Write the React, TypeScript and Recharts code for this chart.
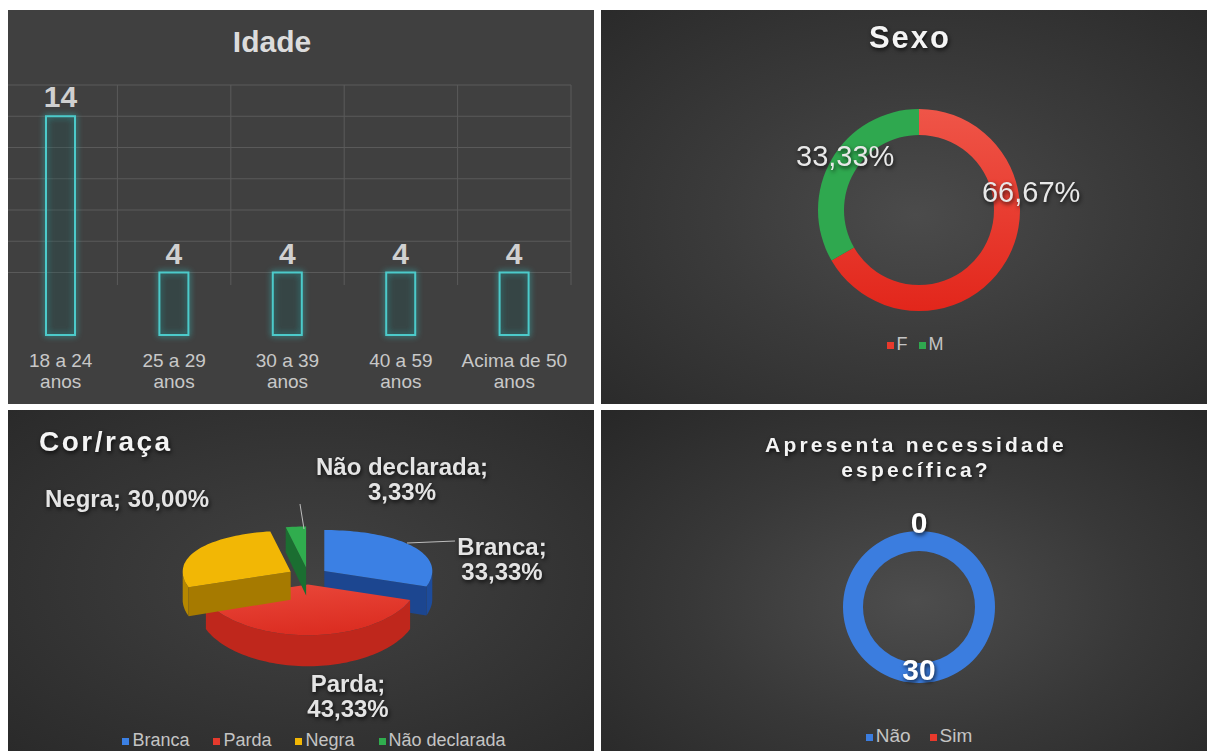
import React from "react";
import {
  BarChart,
  Bar,
  XAxis,
  YAxis,
  CartesianGrid,
  LabelList,
  PieChart,
  Pie,
  Cell,
} from "recharts";

const FONT = '"Liberation Sans", Arial, sans-serif';

// Idade
const idadeFaixas = ["18 a 24 anos", "25 a 29 anos", "30 a 39 anos", "40 a 59 anos", "Acima de 50 anos"];
const idadeTotais = [14, 4, 4, 4, 4];
const idadeMax = 16;
const idadeTicks = [4, 6, 8, 10, 12, 14, 16];

// Sexo
const sexoNomes = ["F", "M"];
const sexoPercentuais = [66.67, 33.33];
const sexoCores = ["url(#gradF)", "#2fa84f"];
const sexoLegenda = ["#e8392c", "#2fa84f"];

// Cor/raça
const corNomes = ["Branca", "Parda", "Negra", "Não declarada"];
const corPercentuais = [33.33, 43.33, 30.0, 3.33];
const corTopo = ["#3b80e4", "url(#gradParda)", "#f2b705", "#30ad4e"];
const corLado = ["#1d4c9c", "#bf271c", "#b58700", "#1f7d37"];
const corFace = ["#1c4690", "#a82218", "#a67a00", "#1b6e31"];
const corLegenda = ["#3b80e4", "#e53a2d", "#f2b705", "#30ad4e"];

// Necessidade específica
const necNomes = ["Não", "Sim"];
const necTotais = [30, 0];
const necCores = ["#3b7ddf", "#e8392c"];

const idadeData = idadeFaixas.map((faixa, i) => ({ faixa, total: idadeTotais[i] }));
const sexoData = sexoNomes.map((nome, i) => ({ nome, valor: sexoPercentuais[i] }));
const corData = corNomes.map((nome, i) => ({ nome, valor: corPercentuais[i] }));
const necData = necNomes.map((nome, i) => ({ nome, valor: necTotais[i] }));

const pct = (v: number) => v.toFixed(2).replace(".", ",") + "%";
const rad = (d: number) => (d * Math.PI) / 180;
const sombra = { filter: "drop-shadow(1px 2px 2px rgba(0,0,0,0.75))" };

function Painel({ left, top, width, height, background, children }: any) {
  return (
    <div style={{ position: "absolute", left, top, width, height, background, overflow: "hidden" }}>
      {children}
    </div>
  );
}

function Camada({ width, height, children }: any) {
  return (
    <svg width={width} height={height} style={{ position: "absolute", left: 0, top: 0, pointerEvents: "none" }}>
      {children}
    </svg>
  );
}

function Legenda({ nomes, cores, centerX, baseline, fontSize, gap }: any) {
  return (
    <div
      style={{
        position: "absolute",
        left: centerX - 250,
        width: 500,
        top: baseline - Math.round(fontSize * 0.85),
        display: "flex",
        justifyContent: "center",
        gap,
        fontFamily: FONT,
        fontSize,
        lineHeight: `${fontSize}px`,
        color: "#c4c4c4",
        whiteSpace: "nowrap",
      }}
    >
      {nomes.map((n: string, i: number) => (
        <span key={n} style={{ display: "flex", alignItems: "center" }}>
          <span style={{ width: 7, height: 7, background: cores[i], marginRight: 3, marginTop: 3 }} />
          {n}
        </span>
      ))}
    </div>
  );
}

function IdadeTick({ x, y, payload }: any) {
  const texto = String(payload.value);
  const corte = texto.lastIndexOf(" ");
  return (
    <text x={x} y={y} textAnchor="middle" fill="#c8c8c8" fontSize={19} fontFamily={FONT}>
      <tspan x={x} dy={32}>{texto.slice(0, corte)}</tspan>
      <tspan x={x} dy={21}>{texto.slice(corte + 1)}</tspan>
    </text>
  );
}

function BarraContorno({ x, y, width, height }: any) {
  return (
    <rect
      x={x}
      y={y}
      width={width}
      height={height}
      fill="rgba(0,0,0,0.12)"
      stroke="#4ccaca"
      strokeWidth={2}
      style={{ filter: "drop-shadow(0 0 3px rgba(50,200,200,0.9))" }}
    />
  );
}

// rótulos da rosca "Sexo": ângulo e raio em torno do centro
const sexoRotuloPos = [
  { ang: 7, r: 113 },
  { ang: 146, r: 89 },
];

function RotuloSexo({ cx, cy, index, value }: any) {
  const p = sexoRotuloPos[index];
  return (
    <text
      x={cx + p.r * Math.cos(rad(p.ang))}
      y={cy - p.r * Math.sin(rad(p.ang))}
      dy={-4}
      textAnchor="middle"
      dominantBaseline="central"
      fill="#e8e8e8"
      fontSize={29}
      fontFamily={FONT}
      style={sombra}
    >
      {pct(value)}
    </text>
  );
}

// pizza 3D: elipse com leve perspectiva
const PIE_K = 0.425;
const PIE_K_VAR = 0.045;
const PIE_DEPTH = 28;
const PIE_EXPLODE = 20;

function ponto(ox: number, oy: number, ang: number, r: number) {
  const s = Math.sin(rad(ang));
  return [ox + r * Math.cos(rad(ang)), oy - r * (PIE_K - PIE_K_VAR * s) * s];
}
const prof = (ang: number) => PIE_DEPTH - 3 * Math.sin(rad(ang));

function arco(ox: number, oy: number, a0: number, a1: number, r: number, desce = false) {
  const pts: number[][] = [];
  const n = Math.max(2, Math.ceil(Math.abs(a1 - a0) / 2));
  for (let i = 0; i <= n; i++) {
    const a = a0 + ((a1 - a0) * i) / n;
    const [x, y] = ponto(ox, oy, a, r);
    pts.push([x, desce ? y + prof(a) : y]);
  }
  return pts;
}

const caminho = (pts: number[][]) =>
  pts.map(([x, y], i) => `${i ? "L" : "M"}${x.toFixed(1)},${y.toFixed(1)}`).join("") + "Z";

function Fatia3D({ cx, cy, outerRadius, startAngle, endAngle, index }: any) {
  const lo = Math.min(startAngle, endAngle);
  const hi = Math.max(startAngle, endAngle);
  const mid = (lo + hi) / 2;
  const ox = cx + PIE_EXPLODE * Math.cos(rad(mid));
  const oy = cy - PIE_EXPLODE * PIE_K * Math.sin(rad(mid));
  const R = outerRadius;

  const paredes: string[] = [];
  for (const k of [-360, 0, 360]) {
    const u = Math.max(lo, -180 + k);
    const v = Math.min(hi, k);
    if (v - u > 0.01) {
      paredes.push(caminho([...arco(ox, oy, u, v, R), ...arco(ox, oy, v, u, R, true)]));
    }
  }
  const faces: number[] = [];
  if (Math.cos(rad(lo)) > 1e-6) faces.push(lo);
  if (Math.cos(rad(hi)) < -1e-6) faces.push(hi);

  return (
    <g>
      {paredes.map((d, i) => (
        <path key={"p" + i} d={d} fill={corLado[index]} />
      ))}
      {faces.map((a, i) => {
        const [ex, ey] = ponto(ox, oy, a, R);
        return (
          <path
            key={"f" + i}
            d={caminho([
              [ox, oy],
              [ex, ey],
              [ex, ey + prof(a)],
              [ox, oy + PIE_DEPTH],
            ])}
            fill={corFace[index]}
          />
        );
      })}
      <path d={caminho([[ox, oy], ...arco(ox, oy, lo, hi, R)])} fill={corTopo[index]} />
    </g>
  );
}

// rótulos de Cor/raça, relativos ao centro da pizza
const corRotuloPos = [
  { dx: 194, dy: -21, anchor: "middle", quebra: true, guia: [99, -33, 147, -35] },
  { dx: 40, dy: 116, anchor: "middle", quebra: true, guia: null },
  { dx: -263, dy: -69, anchor: "start", quebra: false, guia: null },
  { dx: 94, dy: -101, anchor: "middle", quebra: true, guia: [-8, -72, -4, -47] },
];

function RotuloCor({ cx, cy, index, value, payload }: any) {
  const p = corRotuloPos[index];
  const nome = payload?.nome ?? corNomes[index];
  const estilo = { fill: "#e4e4e4", fontSize: 24, fontWeight: "bold" as const, fontFamily: FONT };
  return (
    <g>
      {p.guia && (
        <line
          x1={cx + p.guia[0]}
          y1={cy + p.guia[1]}
          x2={cx + p.guia[2]}
          y2={cy + p.guia[3]}
          stroke="#bdbdbd"
          strokeWidth={1}
        />
      )}
      {p.quebra ? (
        <text x={cx + p.dx} y={cy + p.dy} textAnchor={p.anchor} {...estilo} style={sombra}>
          <tspan x={cx + p.dx}>{nome};</tspan>
          <tspan x={cx + p.dx} dy={25}>{pct(value)}</tspan>
        </text>
      ) : (
        <text x={cx + p.dx} y={cy + p.dy} textAnchor={p.anchor} {...estilo} style={sombra}>
          {nome}; {pct(value)}
        </text>
      )}
    </g>
  );
}

const necRotuloRaio = [66, 81];

function RotuloNec({ cx, cy, midAngle, index, value }: any) {
  const r = necRotuloRaio[index];
  return (
    <text
      x={cx + r * Math.cos(rad(midAngle))}
      y={cy - r * Math.sin(rad(midAngle))}
      dy={-4}
      textAnchor="middle"
      dominantBaseline="central"
      fill="#ffffff"
      fontSize={30}
      fontWeight="bold"
      fontFamily={FONT}
      style={sombra}
    >
      {value}
    </text>
  );
}

export default function App() {
  return (
    <div
      style={{
        position: "absolute",
        left: 0,
        top: 0,
        width: 1207,
        height: 751,
        background: "#ffffff",
        overflow: "hidden",
        fontFamily: FONT,
      }}
    >
      <svg width={0} height={0} style={{ position: "absolute" }}>
        <defs>
          <linearGradient id="gradF" x1="0" y1="0" x2="0" y2="1">
            <stop offset="0%" stopColor="#ef5548" />
            <stop offset="100%" stopColor="#e2261b" />
          </linearGradient>
          <linearGradient id="gradParda" x1="0" y1="0" x2="0.3" y2="1">
            <stop offset="0%" stopColor="#ea483b" />
            <stop offset="100%" stopColor="#dc2e22" />
          </linearGradient>
        </defs>
      </svg>

      {/* Idade */}
      <Painel left={8} top={10} width={586} height={394} background="#404040">
        <div style={{ position: "absolute", left: -4, top: 0 }}>
          <BarChart width={600} height={394} data={idadeData} margin={{ top: 75, right: 33, bottom: 9, left: 0 }}>
            <CartesianGrid
              stroke="#5a5a5a"
              y={75}
              height={200}
              horizontalCoordinatesGenerator={({ offset }: any) =>
                idadeTicks.map((t) => offset.top + offset.height * (1 - t / idadeMax))
              }
              verticalCoordinatesGenerator={({ offset }: any) =>
                idadeFaixas.map((_, i) => offset.left + (offset.width * (i + 1)) / idadeFaixas.length)
              }
            />
            <XAxis
              dataKey="faixa"
              height={60}
              axisLine={false}
              tickLine={false}
              tickSize={0}
              tickMargin={0}
              interval={0}
              tick={<IdadeTick />}
            />
            <YAxis hide domain={[0, idadeMax]} ticks={idadeTicks} />
            <Bar dataKey="total" barSize={29} isAnimationActive={false} shape={<BarraContorno />}>
              <LabelList
                dataKey="total"
                position="top"
                offset={9}
                fill="#d0d0d0"
                fontSize={30}
                fontWeight="bold"
                fontFamily={FONT}
              />
            </Bar>
          </BarChart>
        </div>
        <Camada width={586} height={394}>
          <text x={264} y={42} textAnchor="middle" fill="#dcdcdc" fontSize={30} fontWeight="bold" fontFamily={FONT}>
            Idade
          </text>
        </Camada>
      </Painel>

      {/* Sexo */}
      <Painel
        left={601}
        top={10}
        width={606}
        height={394}
        background="radial-gradient(ellipse at 52% 52%, #4b4b4b 0%, #3b3b3b 45%, #2a2a2a 100%)"
      >
        <PieChart width={606} height={394}>
          <Pie
            data={sexoData}
            dataKey="valor"
            nameKey="nome"
            cx={313}
            cy={195}
            innerRadius={75}
            outerRadius={101}
            startAngle={90}
            endAngle={-270}
            stroke="none"
            isAnimationActive={false}
            labelLine={false}
            label={RotuloSexo}
          >
            {sexoData.map((d, i) => (
              <Cell key={d.nome} fill={sexoCores[i]} />
            ))}
          </Pie>
        </PieChart>
        <Camada width={606} height={394}>
          <text
            x={309}
            y={38}
            textAnchor="middle"
            fill="#f4f4f4"
            fontSize={31}
            fontWeight="bold"
            letterSpacing={2}
            fontFamily={FONT}
            style={sombra}
          >
            Sexo
          </text>
        </Camada>
        <Legenda nomes={sexoNomes} cores={sexoLegenda} centerX={314} baseline={340} fontSize={18} gap={11} />
      </Painel>

      {/* Cor/raça */}
      <Painel
        left={8}
        top={410}
        width={586}
        height={341}
        background="radial-gradient(ellipse at 52% 50%, #424242 0%, #363636 50%, #2a2a2a 100%)"
      >
        <PieChart width={586} height={341}>
          <Pie
            data={corData}
            dataKey="valor"
            nameKey="nome"
            cx={295}
            cy={161}
            outerRadius={108}
            startAngle={90}
            endAngle={-270}
            fill="transparent"
            stroke="none"
            isAnimationActive={false}
            labelLine={false}
            label={Fatia3D}
          />
          <Pie
            data={corData}
            dataKey="valor"
            nameKey="nome"
            cx={295}
            cy={161}
            outerRadius={108}
            startAngle={90}
            endAngle={-270}
            fill="transparent"
            stroke="none"
            isAnimationActive={false}
            labelLine={false}
            label={RotuloCor}
          />
        </PieChart>
        <Camada width={586} height={341}>
          <text
            x={31}
            y={41}
            fill="#f4f4f4"
            fontSize={28}
            fontWeight="bold"
            letterSpacing={2.5}
            fontFamily={FONT}
            style={sombra}
          >
            Cor/raça
          </text>
        </Camada>
        <Legenda nomes={corNomes} cores={corLegenda} centerX={306} baseline={336} fontSize={18} gap={24} />
      </Painel>

      {/* Necessidade específica */}
      <Painel
        left={601}
        top={410}
        width={606}
        height={341}
        background="radial-gradient(ellipse at 52% 56%, #4d4d4d 0%, #383838 50%, #272727 100%)"
      >
        <PieChart width={606} height={341}>
          <Pie
            data={necData}
            dataKey="valor"
            nameKey="nome"
            cx={313}
            cy={192}
            innerRadius={56}
            outerRadius={76}
            startAngle={90}
            endAngle={-270}
            stroke="none"
            isAnimationActive={false}
            labelLine={false}
            label={RotuloNec}
          >
            {necData.map((d, i) => (
              <Cell key={d.nome} fill={necCores[i]} />
            ))}
          </Pie>
        </PieChart>
        <Camada width={606} height={341}>
          <text
            textAnchor="middle"
            fill="#f4f4f4"
            fontSize={21}
            fontWeight="bold"
            letterSpacing={3.2}
            fontFamily={FONT}
            style={sombra}
          >
            <tspan x={315} y={42}>Apresenta necessidade</tspan>
            <tspan x={315} y={67}>específica?</tspan>
          </text>
        </Camada>
        <Legenda nomes={necNomes} cores={necCores} centerX={318} baseline={332} fontSize={19} gap={19} />
      </Painel>
    </div>
  );
}
